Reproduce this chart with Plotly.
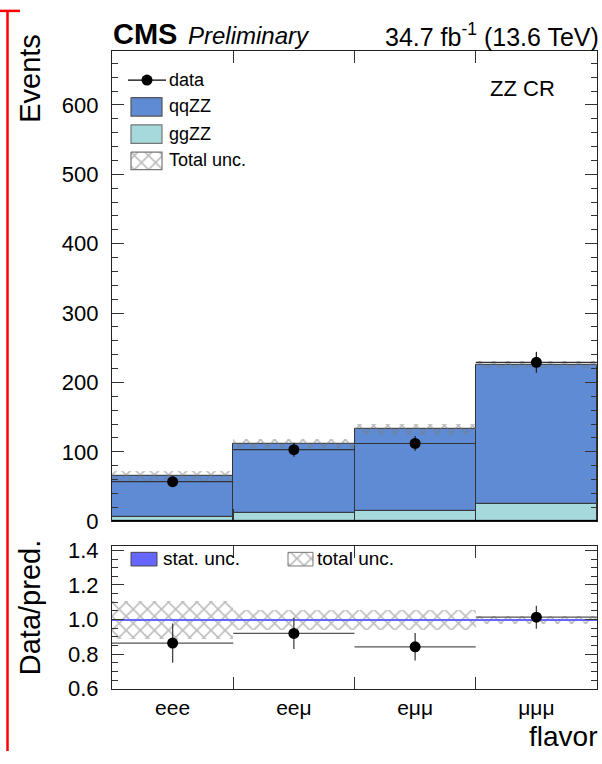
import plotly.graph_objects as go

# Canvas size in pixels
W, H = 602, 764

# ---- data -------------------------------------------------------------
flavors = ["eee", "eeμ", "eμμ", "μμμ"]
bin_centers = [0.5, 1.5, 2.5, 3.5]
bin_edges = [1, 2, 3]
qqzz = [59.5, 100.0, 118.0, 201.0]
ggzz = [6.5, 12.0, 15.0, 25.0]
total_unc = [7.3, 6.7, 8.0, 5.4]
stat_unc_rel = [0.006, 0.005, 0.005, 0.004]
data = [57, 103, 112, 229]
data_err = [7.5, 10.1, 10.6, 15.1]
main_ticks = [0, 100, 200, 300, 400, 500, 600]
ratio_ticks = [0.6, 0.8, 1.0, 1.2, 1.4]

# ---- derived quantities ----------------------------------------------
total = [q + g for q, g in zip(qqzz, ggzz)]
ratio = [d / t for d, t in zip(data, total)]
ratio_err = [e / t for e, t in zip(data_err, total)]
unc_rel = [u / t for u, t in zip(total_unc, total)]

# ---- styling ---------------------------------------------------------
FONT = "Liberation Sans, Arial, Helvetica, sans-serif"
C_QQ = "#5E8BD3"
C_GG = "#A6D9DB"
C_STAT = "rgb(102,102,255)"
HATCH = dict(shape="x", fgcolor="#7a7a7a", bgcolor="rgba(0,0,0,0)",
             size=10, solidity=0.3, fillmode="overlay")


def px(x):
    return x / W


def py(y):
    return 1 - y / H


X_DOMAIN = [px(112), px(597)]
MAIN_DOMAIN = [py(528), py(45)]
RATIO_DOMAIN = [py(700), py(553)]

fig = go.Figure()

# ---- main panel: stacked prediction ----------------------------------
fig.add_trace(go.Bar(
    x=bin_centers, y=ggzz, base=[0] * 4, width=1,
    marker=dict(color=C_GG, line=dict(color="#333333", width=1)),
    xaxis="x", yaxis="y", showlegend=False))
fig.add_trace(go.Bar(
    x=bin_centers, y=qqzz, base=ggzz, width=1,
    marker=dict(color=C_QQ, line=dict(color="#333333", width=1)),
    xaxis="x", yaxis="y", showlegend=False))
fig.add_trace(go.Bar(
    x=bin_centers, y=[2 * u for u in total_unc],
    base=[t - u for t, u in zip(total, total_unc)], width=1,
    marker=dict(color="rgba(0,0,0,0)", line=dict(width=0), pattern=HATCH),
    xaxis="x", yaxis="y", showlegend=False))
fig.add_trace(go.Scatter(
    x=bin_centers, y=data, mode="markers",
    marker=dict(color="black", size=11),
    error_y=dict(type="data", array=data_err, color="#222222", thickness=1.3, width=0),
    error_x=dict(type="constant", value=0.5, color="#333333", thickness=1.2, width=0),
    xaxis="x", yaxis="y", showlegend=False))

# ---- ratio panel -----------------------------------------------------
fig.add_trace(go.Bar(
    x=bin_centers, y=[2 * r for r in unc_rel],
    base=[1 - r for r in unc_rel], width=1,
    marker=dict(color="rgba(0,0,0,0)", line=dict(width=0), pattern=HATCH),
    xaxis="x2", yaxis="y2", showlegend=False))
fig.add_trace(go.Bar(
    x=bin_centers, y=[2 * s for s in stat_unc_rel],
    base=[1 - s for s in stat_unc_rel], width=1,
    marker=dict(color=C_STAT, line=dict(width=0)),
    xaxis="x2", yaxis="y2", showlegend=False))
fig.add_trace(go.Scatter(
    x=bin_centers, y=ratio, mode="markers",
    marker=dict(color="black", size=11),
    error_y=dict(type="data", array=ratio_err, color="#444444", thickness=1.3, width=0),
    error_x=dict(type="constant", value=0.5, color="#555555", thickness=1.2, width=0),
    xaxis="x2", yaxis="y2", showlegend=False))

# ---- legend boxes drawn on a full-canvas pixel overlay ---------------
def box(x0, y0, x1, y1, **kw):
    fig.add_trace(go.Scatter(
        x=[x0, x1, x1, x0, x0], y=[y0, y0, y1, y1, y0],
        mode="lines", fill="toself", hoverinfo="skip",
        xaxis="x3", yaxis="y3", showlegend=False, **kw))


fig.add_trace(go.Scatter(x=[128, 166], y=[75, 75], mode="lines",
                         line=dict(color="black", width=1.2),
                         xaxis="x3", yaxis="y3", showlegend=False))
fig.add_trace(go.Scatter(x=[147], y=[75], mode="markers",
                         marker=dict(color="black", size=11),
                         xaxis="x3", yaxis="y3", showlegend=False))
box(131, 93, 162, 112, fillcolor=C_QQ, line=dict(color="#555555", width=1.2))
box(131, 121, 162, 140, fillcolor=C_GG, line=dict(color="#777777", width=1.2))
box(131, 149, 162, 167, fillcolor="rgba(0,0,0,0)", fillpattern=HATCH,
    line=dict(color="#777777", width=1.2))
box(131, 560, 157, 574, fillcolor=C_STAT, line=dict(color="#444444", width=1))
box(288, 560, 313, 574, fillcolor="rgba(0,0,0,0)", fillpattern=HATCH,
    line=dict(color="#777777", width=1))

# ---- axes ------------------------------------------------------------
common_x = dict(
    domain=X_DOMAIN, range=[0, 4], showline=True, linecolor="#222222",
    linewidth=1.2, mirror="ticks", showgrid=False, zeroline=False,
    tickmode="array", tickvals=bin_centers, ticks="",
    minor=dict(tickmode="array", tickvals=bin_edges, ticks="inside",
               ticklen=12, tickcolor="#333333", showgrid=False),
)
common_y = dict(
    showline=True, linecolor="#222222", linewidth=1.2, mirror="ticks",
    showgrid=False, zeroline=False, ticks="inside", ticklen=12,
    tickcolor="#333333", tickfont=dict(family=FONT, size=22, color="black"),
    ticklabelstandoff=8,
)

layout_axes = dict(
    xaxis=dict(common_x, anchor="y", showticklabels=False),
    yaxis=dict(common_y, domain=MAIN_DOMAIN, anchor="x", range=[0, 678],
               tickmode="array", tickvals=main_ticks,
               minor=dict(dtick=20, ticks="inside", ticklen=6,
                          tickcolor="#333333", showgrid=False)),
    xaxis2=dict(common_x, anchor="y2", showticklabels=True, ticktext=flavors,
                tickfont=dict(family=FONT, size=21, color="black")),
    yaxis2=dict(common_y, domain=RATIO_DOMAIN, anchor="x2", range=[0.6, 1.428],
                tickmode="array", tickvals=ratio_ticks, tickformat=".1f",
                minor=dict(dtick=0.05, tick0=0.6, ticks="inside", ticklen=6,
                           tickcolor="#333333", showgrid=False)),
    xaxis3=dict(domain=[0, 1], range=[0, W], visible=False, anchor="y3"),
    yaxis3=dict(domain=[0, 1], range=[H, 0], visible=False, anchor="x3"),
)


def text(x, y, s, size, xanchor="left", angle=0, yanchor="middle", **font):
    return dict(x=px(x), y=py(y), xref="paper", yref="paper", text=s,
                showarrow=False, xanchor=xanchor, yanchor=yanchor,
                textangle=angle,
                font=dict(family=FONT, size=size, color="black", **font))


annotations = [
    text(111, 28, "<b>CMS</b>", 29),
    text(186, 29, "<i>Preliminary</i>", 24),
    text(601, 29, "34.7 fb<sup>-1</sup> (13.6 TeV)", 25, xanchor="right"),
    text(488, 84, "ZZ CR", 22),
    text(167, 75, "data", 18),
    text(167, 102, "qqZZ", 18),
    text(167, 130, "ggZZ", 18),
    text(167, 157, "Total unc.", 18),
    text(161, 566, "stat. unc.", 19),
    text(315, 566, "total unc.", 19),
    text(30, 26, "Events", 29, xanchor="center", angle=-90, yanchor="top"),
    text(30, 546, "Data/pred.", 29, xanchor="center", angle=-90, yanchor="top"),
    text(599, 749, "flavor", 28, xanchor="right"),
]

# Red frame marker along the left edge
shapes = [
    dict(type="line", xref="paper", yref="paper", x0=px(7.5), x1=px(7.5),
         y0=py(4), y1=py(764), line=dict(color="red", width=2.5)),
    dict(type="line", xref="paper", yref="paper", x0=px(0), x1=px(20),
         y0=py(4), y1=py(4), line=dict(color="red", width=2.5)),
    # thick base line of the main panel
    dict(type="line", xref="x", yref="y", x0=0, x1=4, y0=0, y1=0,
         line=dict(color="black", width=2.5)),
]

fig.update_layout(
    width=W, height=H, margin=dict(l=0, r=0, t=0, b=0),
    paper_bgcolor="white", plot_bgcolor="rgba(0,0,0,0)",
    barmode="overlay", bargap=0, showlegend=False,
    annotations=annotations, shapes=shapes, **layout_axes,
)

fig.write_html("out.html")
